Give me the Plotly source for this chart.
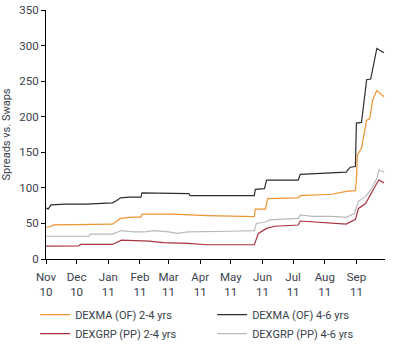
import plotly.graph_objects as go

# DEXMA (OF) 2-4 yrs
dexma_24_dates = ["2010-11-01", "2010-11-04", "2010-11-09", "2010-12-31", "2011-01-05", "2011-01-13",
                  "2011-01-25", "2011-02-02", "2011-02-03", "2011-03-05", "2011-04-08", "2011-05-24",
                  "2011-05-25", "2011-06-04", "2011-06-06", "2011-07-06", "2011-07-08", "2011-08-08",
                  "2011-08-15", "2011-08-22", "2011-08-31", "2011-09-01", "2011-09-02", "2011-09-06",
                  "2011-09-08", "2011-09-11", "2011-09-14", "2011-09-17", "2011-09-21", "2011-09-28"]
dexma_24_vals = [45, 45, 48, 48, 49, 57, 59, 59, 63, 63, 61, 59.5, 70, 70, 85, 86, 89, 91,
                 93, 95, 96, 111, 146, 156, 172, 195, 197, 224, 237, 228]

# DEXMA (OF) 4-6 yrs
dexma_46_dates = ["2010-11-01", "2010-11-03", "2010-11-06", "2010-11-20", "2010-12-10", "2010-12-31",
                  "2011-01-05", "2011-01-09", "2011-01-13", "2011-01-22", "2011-02-02", "2011-02-03",
                  "2011-02-20", "2011-03-05", "2011-03-21", "2011-03-22", "2011-04-20", "2011-05-24",
                  "2011-05-25", "2011-06-03", "2011-06-05", "2011-07-06", "2011-07-08", "2011-07-25",
                  "2011-08-08", "2011-08-22", "2011-08-24", "2011-08-26", "2011-08-31", "2011-09-01",
                  "2011-09-06", "2011-09-08", "2011-09-11", "2011-09-15", "2011-09-18", "2011-09-21",
                  "2011-09-28"]
dexma_46_vals = [72, 70, 76, 77, 77, 78, 79, 82, 86, 87, 87, 93, 93, 92, 92, 89, 89, 89,
                 98, 99, 111, 111, 119, 120, 121, 122, 126, 129, 130, 191, 192, 215, 252, 253,
                 277, 296, 290]

# DEXGRP (PP) 2-4 yrs
dexgrp_24_dates = ["2010-11-01", "2010-12-03", "2010-12-05", "2011-01-05", "2011-01-14", "2011-01-25",
                   "2011-02-10", "2011-02-24", "2011-03-20", "2011-04-08", "2011-05-01", "2011-05-24",
                   "2011-05-28", "2011-06-05", "2011-06-13", "2011-07-06", "2011-07-08", "2011-08-08",
                   "2011-08-22", "2011-08-31", "2011-09-03", "2011-09-10", "2011-09-15", "2011-09-20",
                   "2011-09-23", "2011-09-28"]
dexgrp_24_vals = [18, 18.5, 20.5, 20.5, 26.5, 26, 25, 23, 22, 20, 20, 20, 36, 43, 46, 47.8,
                  53.4, 51, 49, 55.8, 71, 78, 92, 104, 111, 107]

# DEXGRP (PP) 4-6 yrs
dexgrp_46_dates = ["2010-11-01", "2010-12-13", "2010-12-14", "2011-01-05", "2011-01-14", "2011-01-25",
                   "2011-02-05", "2011-02-15", "2011-03-01", "2011-03-10", "2011-03-20", "2011-04-10",
                   "2011-05-01", "2011-05-24", "2011-05-26", "2011-06-04", "2011-06-08", "2011-07-06",
                   "2011-07-08", "2011-07-20", "2011-08-08", "2011-08-22", "2011-08-30", "2011-09-03",
                   "2011-09-10", "2011-09-15", "2011-09-19", "2011-09-21", "2011-09-23", "2011-09-28"]
dexgrp_46_vals = [32, 32, 35, 35, 40, 38, 38, 40, 38, 36, 38, 39, 39, 40, 50, 52, 55, 57,
                  62, 60, 60, 58.6, 64, 81, 88, 97, 109, 113, 125, 122]

month_ticks = ["2010-11-01", "2010-12-01", "2011-01-01", "2011-02-01", "2011-03-01", "2011-04-01",
               "2011-05-01", "2011-06-01", "2011-07-01", "2011-08-01", "2011-09-01"]
month_labels = ["Nov<br>10", "Dec<br>10", "Jan<br>11", "Feb<br>11", "Mar<br>11", "Apr<br>11",
                "May<br>11", "Jun<br>11", "Jul<br>11", "Aug<br>11", "Sep<br>11"]

series = [
    ("DEXMA (OF) 2-4 yrs", dexma_24_dates, dexma_24_vals, "#EE9433"),
    ("DEXMA (OF) 4-6 yrs", dexma_46_dates, dexma_46_vals, "#2E2E2E"),
    ("DEXGRP (PP) 2-4 yrs", dexgrp_24_dates, dexgrp_24_vals, "#A8323F"),
    ("DEXGRP (PP) 4-6 yrs", dexgrp_46_dates, dexgrp_46_vals, "#B9B9B9"),
]

text_color = "#3A3F4C"
font_family = "Roboto, sans-serif"

fig = go.Figure()
for name, d, v, c in series:
    fig.add_trace(go.Scatter(x=d, y=v, mode="lines", name=name,
                             line=dict(color=c, width=1.2)))

fig.update_layout(
    width=413, height=348,
    margin=dict(l=46, r=28, t=10, b=89, autoexpand=False),
    paper_bgcolor="white", plot_bgcolor="white",
    font=dict(family=font_family, size=11, color=text_color),
    showlegend=True,
    legend=dict(orientation="h", x=-0.032, y=-0.165, xanchor="left", yanchor="top",
                entrywidth=132, entrywidthmode="pixels",
                font=dict(size=11, color=text_color), tracegroupgap=0,
                itemwidth=30),
)
fig.update_xaxes(
    type="date", range=["2010-11-01", "2011-09-29"],
    tickmode="array", tickvals=month_ticks, ticktext=month_labels,
    showgrid=False, zeroline=False,
    showline=True, linecolor="#000000", linewidth=1,
    ticks="outside", ticklen=4, tickcolor="#000000",
    ticklabelstandoff=3,
    tickfont=dict(size=11.5, color=text_color),
)
fig.update_yaxes(
    range=[0, 350], tickvals=list(range(0, 351, 50)),
    showgrid=False, zeroline=False,
    showline=True, linecolor="#000000", linewidth=1,
    ticks="outside", ticklen=4, tickcolor="#000000",
    tickfont=dict(size=11.5, color=text_color),
    title=dict(text="Spreads vs. Swaps", font=dict(size=11, color=text_color), standoff=6),
)

fig.write_html("out.html")
